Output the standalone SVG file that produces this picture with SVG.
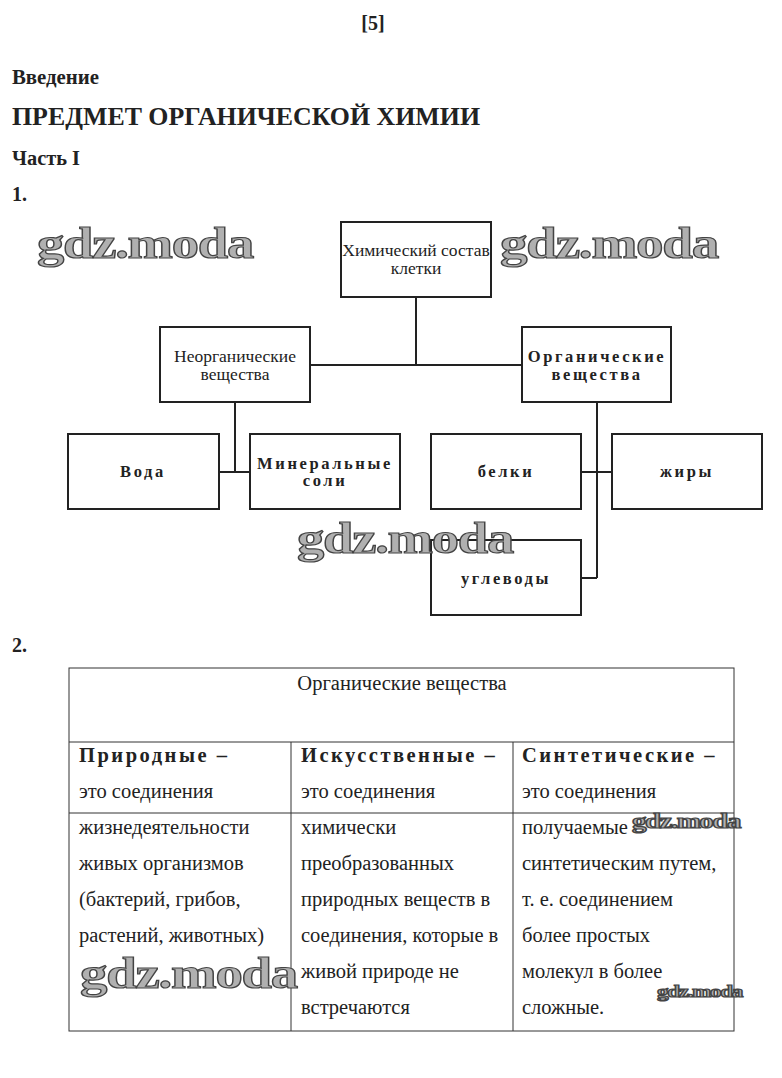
<svg xmlns="http://www.w3.org/2000/svg" width="782" height="1078" viewBox="0 0 782 1078">
<style>
text{font-family:"Liberation Serif","Times New Roman",serif;fill:#222}
.h{font-weight:bold}
.box{fill:#fff;stroke:#222;stroke-width:2}
.ln{stroke:#222;stroke-width:2;fill:none}
.t{font-size:17.5px}
.b{font-size:16.5px;font-weight:bold;letter-spacing:2.6px}
.c{font-size:20.5px}
.cb{font-size:20.5px;font-weight:bold;letter-spacing:2.5px}
.wm{font-weight:bold;fill:#b0b0b0;stroke:#444;stroke-width:1.2;letter-spacing:-1px}
.tb{stroke:#333;stroke-width:1;fill:none}
</style>
<rect width="782" height="1078" fill="#fff"/>
<g id="headings">
<text x="373" y="30" class="h" font-size="20" text-anchor="middle">[5]</text>
<text x="12" y="84" class="h" font-size="20" textLength="87" lengthAdjust="spacingAndGlyphs">Введение</text>
<text x="12" y="125" class="h" font-size="25" textLength="468" lengthAdjust="spacingAndGlyphs">ПРЕДМЕТ ОРГАНИЧЕСКОЙ ХИМИИ</text>
<text x="12" y="165" class="h" font-size="20" textLength="68" lengthAdjust="spacingAndGlyphs">Часть I</text>
<text x="12" y="201" class="h" font-size="20">1.</text>
<text x="12" y="652" class="h" font-size="20">2.</text>
</g>
<g id="connectors">
<path class="ln" d="M416 297V365M310 365H522M235 402V472M219 472H250M597 402V578M581 472H612M581 578H597"/>
</g>
<g id="n-root"><rect class="box" x="341" y="222" width="150" height="75"/>
<text class="t" x="416" y="256" text-anchor="middle">Химический состав</text>
<text class="t" x="416" y="274" text-anchor="middle">клетки</text></g>
<g id="n-inorg"><rect class="box" x="160" y="327" width="150" height="75"/>
<text class="t" x="235" y="362" text-anchor="middle">Неорганические</text>
<text class="t" x="235" y="380" text-anchor="middle">вещества</text></g>
<g id="n-org"><rect class="box" x="522" y="327" width="149" height="75"/>
<text class="b" x="597" y="362" text-anchor="middle">Органические</text>
<text class="b" x="597" y="380" text-anchor="middle">вещества</text></g>
<g id="n-water"><rect class="box" x="68" y="434" width="151" height="75"/>
<text class="b" x="143" y="477" text-anchor="middle">Вода</text></g>
<g id="n-salts"><rect class="box" x="250" y="434" width="150" height="75"/>
<text class="b" x="325" y="469" text-anchor="middle">Минеральные</text>
<text class="b" x="325" y="486" text-anchor="middle">соли</text></g>
<g id="n-proteins"><rect class="box" x="431" y="434" width="150" height="75"/>
<text class="b" x="506" y="477" text-anchor="middle">белки</text></g>
<g id="n-fats"><rect class="box" x="612" y="434" width="150" height="75"/>
<text class="b" x="687" y="477" text-anchor="middle">жиры</text></g>
<g id="n-carbs"><rect class="box" x="431" y="540" width="150" height="75"/>
<text class="b" x="506" y="584" text-anchor="middle">углеводы</text></g>
<g id="table">
<rect class="tb" x="69" y="668" width="665" height="363"/>
<path class="tb" d="M69 742H734M69 813H734M291 742V1031M513 742V1031"/>
<text class="c" x="402" y="690" text-anchor="middle">Органические вещества</text>
<text class="cb" x="79" y="762">Природные –</text>
<text class="c" x="79" y="798">это соединения</text>
<text class="c" x="79" y="834">жизнедеятельности</text>
<text class="c" x="79" y="870">живых организмов</text>
<text class="c" x="79" y="906">(бактерий, грибов,</text>
<text class="c" x="79" y="942">растений, животных)</text>
<text class="cb" x="301" y="762">Искусственные –</text>
<text class="c" x="301" y="798">это соединения</text>
<text class="c" x="301" y="834">химически</text>
<text class="c" x="301" y="870">преобразованных</text>
<text class="c" x="301" y="906">природных веществ в</text>
<text class="c" x="301" y="942">соединения, которые в</text>
<text class="c" x="301" y="978">живой природе не</text>
<text class="c" x="301" y="1014">встречаются</text>
<text class="cb" x="522" y="762">Синтетические –</text>
<text class="c" x="522" y="798">это соединения</text>
<text class="c" x="522" y="834">получаемые</text>
<text class="c" x="522" y="870">синтетическим путем,</text>
<text class="c" x="522" y="906">т. е. соединением</text>
<text class="c" x="522" y="942">более простых</text>
<text class="c" x="522" y="978">молекул в более</text>
<text class="c" x="522" y="1014">сложные.</text>
</g>
<g id="watermarks">
<text class="wm" x="37" y="258" font-size="44" textLength="216" lengthAdjust="spacingAndGlyphs">gdz.moda</text>
<text class="wm" x="500" y="258" font-size="44" textLength="218" lengthAdjust="spacingAndGlyphs">gdz.moda</text>
<text class="wm" x="297" y="553" font-size="44" textLength="216" lengthAdjust="spacingAndGlyphs">gdz.moda</text>
<text class="wm" x="80" y="988" font-size="44" textLength="217" lengthAdjust="spacingAndGlyphs">gdz.moda</text>
<text class="wm" x="632" y="828" font-size="20" stroke-width="0.6" textLength="108" lengthAdjust="spacingAndGlyphs">gdz.moda</text>
<text class="wm" x="657" y="997" font-size="17" stroke-width="0.5" textLength="85" lengthAdjust="spacingAndGlyphs">gdz.moda</text>
</g>
</svg>
